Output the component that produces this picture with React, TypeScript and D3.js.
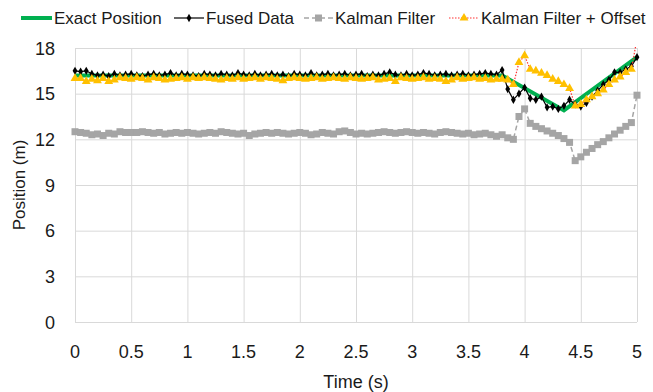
import React, { useEffect, useRef } from 'react';
import * as d3 from 'd3';

// time axis: one sample every 0.05 s
const times = d3.range(0, 101).map(i => +(i * 0.05).toFixed(2));

const exactTimes = [0, 3.8, 4.35, 5];
const exactValues = [16.2, 16.2, 13.9, 17.4];

const fusedValues = [
  16.5, 16.45, 16.5, 16.3, 16.2, 16.25, 16.15, 16.3, 16.2, 16.25,
  16.3, 16.2, 16.15, 16.25, 16.3, 16.2, 16.25, 16.35, 16.2, 16.3,
  16.25, 16.2, 16.15, 16.3, 16.25, 16.2, 16.3, 16.25, 16.2, 16.35,
  16.25, 16.2, 16.3, 16.2, 16.25, 16.3, 16.2, 16.25, 16.15, 16.3,
  16.25, 16.2, 16.35, 16.2, 16.25, 16.3, 16.2, 16.25, 16.3, 16.2,
  16.25, 16.3, 16.15, 16.25, 16.2, 16.3, 16.4, 16.25, 16.2, 16.3,
  16.2, 16.25, 16.35, 16.3, 16.2, 16.25, 16.3, 16.2, 16.25, 16.3,
  16.2, 16.25, 16.3, 16.35, 16.3, 16.25,
  16.55, 15.3, 14.6, 15.0, 15.4, 14.7, 14.6, 14.8, 14.1, 14.15,
  14.0, 14.2, 14.6, 14.3, 14.15, 14.4, 14.8, 15.2, 15.6, 15.9,
  16.4, 16.4, 16.6, 16.8, 17.4,
];

const kalmanValues = [
  12.5, 12.45, 12.4, 12.3, 12.35, 12.25, 12.4, 12.35, 12.5, 12.45,
  12.45, 12.45, 12.5, 12.45, 12.4, 12.45, 12.35, 12.4, 12.45, 12.4,
  12.45, 12.4, 12.35, 12.4, 12.45, 12.4, 12.5, 12.45, 12.4, 12.35,
  12.4, 12.25, 12.35, 12.4, 12.45, 12.4, 12.45, 12.4, 12.35, 12.4,
  12.45, 12.4, 12.3, 12.35, 12.45, 12.4, 12.35, 12.5, 12.55, 12.45,
  12.35, 12.4, 12.35, 12.4, 12.45, 12.5, 12.45, 12.4, 12.45, 12.5,
  12.45, 12.4, 12.45, 12.4, 12.35, 12.45, 12.5, 12.45, 12.4, 12.35,
  12.4, 12.3, 12.35, 12.4, 12.3, 12.2,
  12.3, 12.1, 12.0, 13.5, 14.0, 13.05, 12.85, 12.7, 12.55, 12.4,
  12.25, 12.05, 11.8, 10.6, 10.85, 11.15, 11.4, 11.65, 11.85, 12.1,
  12.35, 12.6, 12.85, 13.1, 14.9,
];

const offsetValues = [
  16.0, 16.0, 15.8, 15.95, 15.85, 16.0, 15.8, 15.9, 16.05, 16.0,
  15.95, 16.05, 16.0, 15.9, 16.05, 16.0, 15.9, 15.95, 16.0, 16.05,
  15.95, 16.05, 16.0, 16.05, 16.0, 15.95, 15.9, 16.0, 15.95, 16.05,
  15.95, 16.0, 16.05, 15.95, 16.05, 16.0, 15.95, 15.85, 16.0, 16.05,
  16.0, 15.95, 16.0, 16.05, 15.95, 16.0, 16.05, 16.0, 15.95, 16.05,
  16.0, 15.95, 16.0, 16.05, 15.9, 15.95, 16.0, 15.8, 16.05, 16.0,
  15.95, 16.0, 16.05, 15.95, 16.0, 15.95, 15.8, 15.9, 16.05, 15.95,
  16.0, 16.05, 15.95, 16.0, 15.9, 15.95,
  15.95, 15.9, 15.6, 17.05, 17.5, 16.6, 16.5, 16.35, 16.2, 15.95,
  15.8, 15.6, 15.35, 14.2, 14.3, 14.6, 14.8, 15.0, 15.25, 15.6,
  15.9, 16.1, 16.4, 16.6, 18.6,
];

const xTicks = [0, 0.5, 1, 1.5, 2, 2.5, 3, 3.5, 4, 4.5, 5];
const yTicks = [0, 3, 6, 9, 12, 15, 18];

const FONT = '"Liberation Sans", Arial, sans-serif';
const TEXT = '#1a1a1a';

export default function App() {
  const svgRef = useRef<SVGSVGElement>(null);

  useEffect(() => {
    const width = 653;
    const height = 392;
    const margin = { top: 48, right: 16, bottom: 70, left: 75 };

    const svg = d3.select(svgRef.current);
    svg.selectAll('*').remove();
    svg.attr('width', width).attr('height', height);

    const x = d3.scaleLinear().domain([0, 5]).range([margin.left, width - margin.right]);
    const y = d3.scaleLinear().domain([0, 18]).range([height - margin.bottom, margin.top]);

    svg.append('defs').append('clipPath').attr('id', 'plot-clip')
      .append('rect')
      .attr('x', margin.left - 10)
      .attr('y', margin.top - 1)
      .attr('width', width - margin.left - margin.right + 20)
      .attr('height', height - margin.top - margin.bottom + 2);

    // grid
    svg.append('g')
      .attr('transform', `translate(0,${height - margin.bottom})`)
      .call(d3.axisBottom(x).tickValues(xTicks).tickSize(-(height - margin.top - margin.bottom)).tickFormat(() => ''))
      .call(g => g.select('.domain').remove())
      .call(g => g.selectAll('line').attr('stroke', '#d9d9d9'));

    svg.append('g')
      .attr('transform', `translate(${margin.left},0)`)
      .call(d3.axisLeft(y).tickValues(yTicks).tickSize(-(width - margin.left - margin.right)).tickFormat(() => ''))
      .call(g => g.select('.domain').remove())
      .call(g => g.selectAll('line').attr('stroke', '#d9d9d9'));

    // tick labels
    svg.append('g').selectAll('text')
      .data(xTicks)
      .enter().append('text')
      .attr('x', d => x(d))
      .attr('y', height - margin.bottom + 36)
      .attr('text-anchor', 'middle')
      .attr('font-family', FONT)
      .attr('font-size', 18)
      .attr('fill', TEXT)
      .text(d => String(d));

    svg.append('g').selectAll('text')
      .data(yTicks)
      .enter().append('text')
      .attr('x', 55)
      .attr('y', d => y(d) + 6.5)
      .attr('text-anchor', 'end')
      .attr('font-family', FONT)
      .attr('font-size', 18)
      .attr('fill', TEXT)
      .text(d => String(d));

    // axis titles
    svg.append('text')
      .attr('x', (margin.left + width - margin.right) / 2)
      .attr('y', 388)
      .attr('text-anchor', 'middle')
      .attr('font-family', FONT)
      .attr('font-size', 18)
      .attr('fill', TEXT)
      .text('Time (s)');

    svg.append('text')
      .attr('transform', `translate(25,${(margin.top + height - margin.bottom) / 2}) rotate(-90)`)
      .attr('text-anchor', 'middle')
      .attr('font-family', FONT)
      .attr('font-size', 17)
      .attr('fill', TEXT)
      .text('Position (m)');

    const line = d3.line<[number, number]>().x(d => x(d[0])).y(d => y(d[1]));
    const pairs = (vals: number[]) => vals.map((v, i) => [times[i], v] as [number, number]);

    const plot = svg.append('g').attr('clip-path', 'url(#plot-clip)');

    // exact position
    plot.append('path')
      .datum(exactTimes.map((t, i) => [t, exactValues[i]] as [number, number]))
      .attr('fill', 'none')
      .attr('stroke', '#00b050')
      .attr('stroke-width', 4)
      .attr('d', line);

    // fused data
    plot.append('path')
      .datum(pairs(fusedValues))
      .attr('fill', 'none')
      .attr('stroke', '#000')
      .attr('stroke-width', 1.2)
      .attr('d', line);
    plot.append('g').selectAll('path')
      .data(pairs(fusedValues))
      .enter().append('path')
      .attr('transform', d => `translate(${x(d[0])},${y(d[1])})`)
      .attr('d', d3.symbol(d3.symbolDiamond, 20))
      .attr('fill', '#000');

    // kalman filter
    plot.append('path')
      .datum(pairs(kalmanValues))
      .attr('fill', 'none')
      .attr('stroke', '#a5a5a5')
      .attr('stroke-width', 1.5)
      .attr('stroke-dasharray', '5,3')
      .attr('d', line);
    plot.append('g').selectAll('rect')
      .data(pairs(kalmanValues))
      .enter().append('rect')
      .attr('x', d => x(d[0]) - 3.5)
      .attr('y', d => y(d[1]) - 3.5)
      .attr('width', 7)
      .attr('height', 7)
      .attr('fill', '#a5a5a5');

    // kalman filter + offset
    plot.append('path')
      .datum(pairs(offsetValues))
      .attr('fill', 'none')
      .attr('stroke', '#ff3030')
      .attr('stroke-width', 1.2)
      .attr('stroke-dasharray', '1.5,1.5')
      .attr('d', line);
    plot.append('g').selectAll('path')
      .data(pairs(offsetValues))
      .enter().append('path')
      .attr('transform', d => `translate(${x(d[0])},${y(d[1])})`)
      .attr('d', d3.symbol(d3.symbolTriangle, 34))
      .attr('fill', '#ffc000');

    // legend
    const lg = svg.append('g').attr('font-family', FONT).attr('font-size', 17).attr('fill', TEXT);
    const ly = 18;

    lg.append('line').attr('x1', 21).attr('x2', 52).attr('y1', ly).attr('y2', ly)
      .attr('stroke', '#00b050').attr('stroke-width', 4);
    lg.append('text').attr('x', 54).attr('y', ly + 6).text('Exact Position');

    lg.append('line').attr('x1', 174).attr('x2', 204).attr('y1', ly).attr('y2', ly)
      .attr('stroke', '#000').attr('stroke-width', 1.2);
    lg.append('path').attr('transform', `translate(189,${ly})`)
      .attr('d', d3.symbol(d3.symbolDiamond, 20)).attr('fill', '#000');
    lg.append('text').attr('x', 206).attr('y', ly + 6).text('Fused Data');

    lg.append('line').attr('x1', 304).attr('x2', 333).attr('y1', ly).attr('y2', ly)
      .attr('stroke', '#a5a5a5').attr('stroke-width', 1.5).attr('stroke-dasharray', '5,3');
    lg.append('rect').attr('x', 315).attr('y', ly - 3.5).attr('width', 7).attr('height', 7).attr('fill', '#a5a5a5');
    lg.append('text').attr('x', 335).attr('y', ly + 6).text('Kalman Filter');

    lg.append('line').attr('x1', 449).attr('x2', 479).attr('y1', ly).attr('y2', ly)
      .attr('stroke', '#ff3030').attr('stroke-width', 1.2).attr('stroke-dasharray', '1.5,1.5');
    lg.append('path').attr('transform', `translate(464,${ly})`)
      .attr('d', d3.symbol(d3.symbolTriangle, 34)).attr('fill', '#ffc000');
    lg.append('text').attr('x', 481).attr('y', ly + 6).text('Kalman Filter + Offset');
  }, []);

  return (
    <svg ref={svgRef} style={{ position: 'absolute', left: 0, top: 0, background: '#fff' }} />
  );
}
